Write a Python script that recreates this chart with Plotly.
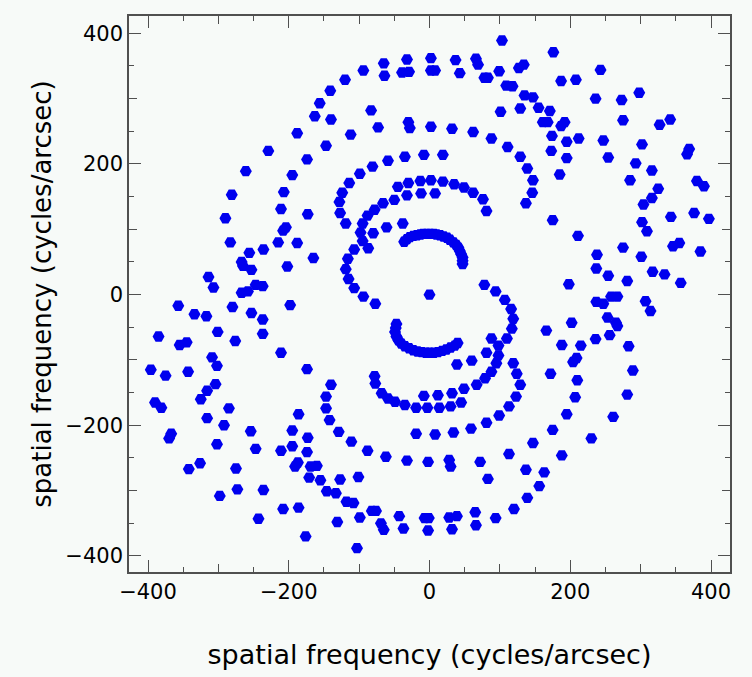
import plotly.graph_objects as go

# (u, v) spatial-frequency samples, in cycles/arcsec
u_freq = [
    -156, -163, -188, -147, -229, -174, -261, -195, -281, -207,
    103, -65, -32, 2, 37, 66, 69, -94, -64, -39,
    -29, 2, 8, 43, 78, 83, 99, 127, 134, -120,
    -141, 109, 118, 135, 147, -83, 101, 129, -140, -73,
    -30, -28, 2, 32, 62, 88, 111, 129, 139, -112,
    -35, -8, 19, -59, -81, -99, -114, -124, -128, -45,
    -30, -13, 2, 19, 35, 49, 62, 76, -50, -32,
    -12, 8, -66,
    176, 243, 187, 208, 236, 273, 298, 155, 171, 161,
    168, 187, 192, 275, 327, 342, 174, 195, 212, 247,
    302, 173, 195, 254, 369, 366, 293, 185, 316, 147,
    285, 380, 390, 325, 146, 316, 137, 304,
    -211, -173, -290, -204, -208, -283, -215, -188, -256, -236,
    -165, -267, -265, -253, -202, -314, -307, -267, -258, -247,
    -237, -357, -280, -198, -334, -317, -253, -237, -385, -301,
    -237, -355, -345, -276, -211, -309, -302, -396, -375, -343,
    -174, -304, -140,
    -316, -325, -390, -381, -285, -316, -186, -147, -147, -142,
    -292, -254, -195, -367, -370, -173, -302, -247, -211, -195,
    -174, -342, -326, -275, -187, -191, -169, -160, -171, -155,
    -146, -273, -236, -298, -208, -186, -243, -176,
    -127, -119, -78, -88, -95, -98, -95, -87, -80, -61,
    -38, -107, -116, -119, -115, -107, -94, -77,
    -36, -28, -18, -9, 1, 10, 20, 29, 38, 43, 47, 47,
    -32, -23, -13, -4, 6, 15, 25, 34, 41, 45, 47,
    0, 78, 94, 107, 116, 119, 117, 110, 81,
    -47, -49, -44, -35, -23, -11, 0, 12, 24, 36,
    -48, -47, -40, -29, -17, -5, 6, 18, 30, 40,
    88, 98, 81, 98, 95, 88, 79, 67, 60, 39,
    119, 124, 129, -78, -77, 49,
    175, 343, 376, 397, 302, 309, 211, 275, 346, 355,
    385, 238, 301, 237, 254, 317, 334, 281, 198, 357,
    237, 247, 258, 267, 307, 314, 202, 253, 265, 267,
    166, 236, 256, 188, 215, 283, 209, 204, 289, 172, 210,
    -129, -111, -88, -62, -32, -2, 28, 30, 72, 83,
    113, 137, -68, -59, -49, -35, -19, -3, 14, 30,
    45, -8, 12, 32, -19, 8, 34, 59, 81, 99,
    113, 123, -127, -101, -133, -118, -108, -131, -99, -82,
    -76, -69, -65, -43, -37, -7, -1, -2, 28, 39,
    32, 65, 66, 94, 120, 139, -103,
    207, 281, 195, 261, 175, 230, 147, 188, 163, 156,
]

v_freq = [
    293, 273, 247, 228, 220, 207, 189, 183, 153, 157,
    389, 354, 360, 362, 359, 361, 352, 343, 335, 340,
    341, 343, 343, 339, 332, 332, 342, 347, 352, 329,
    312, 320, 319, 305, 302, 282, 280, 285, 268, 256,
    264, 255, 257, 254, 249, 239, 226, 211, 193, 245,
    211, 214, 214, 205, 196, 185, 171, 156, 142, 165,
    171, 174, 175, 173, 169, 164, 156, 146, 145, 152,
    155, 155, 140,
    371, 344, 327, 329, 300, 298, 309, 286, 281, 264,
    264, 258, 264, 267, 260, 268, 243, 234, 239, 236,
    230, 220, 209, 210, 223, 215, 201, 184, 190, 175,
    175, 174, 166, 162, 156, 148, 140, 138,
    131, 123, 117, 103, 98, 80, 80, 79, 64, 69,
    56, 50, 44, 38, 43, 27, 11, 3, 5, 15,
    13, -17, -19, -16, -30, -33, -28, -38, -64, -57,
    -60, -77, -73, -71, -89, -96, -109, -115, -124, -118,
    -114, -137, -138,
    -147, -160, -165, -173, -174, -189, -183, -156, -174, -192,
    -200, -209, -208, -213, -220, -219, -229, -236, -239, -232,
    -241, -267, -258, -266, -257, -263, -263, -262, -280, -284,
    -301, -298, -299, -308, -328, -326, -343, -370,
    125, 109, 130, 121, 109, 95, 82, 71, 94, 103,
    109, 69, 55, 39, 24, 10, -3, -14,
    81, 88, 91, 93, 93, 92, 89, 84, 76, 67, 57, 47,
    85, 90, 92, 93, 93, 91, 87, 80, 72, 62, 52,
    0, 15, 5, -8, -22, -37, -52, -67, 128,
    -45, -57, -70, -79, -85, -88, -89, -88, -84, -78,
    -51, -64, -75, -82, -87, -89, -89, -86, -81, -74,
    -67, -78, -89, -93, -105, -118, -128, -138, -101, -107,
    -105, -121, -138, -125, -136, -144,
    114, 119, 125, 116, 111, 97, 90, 72, 74, 79,
    66, 61, 58, 40, 29, 35, 31, 21, 16, 18,
    -11, -14, -3, -3, -10, -25, -43, -35, -43, -48,
    -55, -68, -62, -77, -78, -79, -97, -103, -116, -121, -131,
    -210, -225, -239, -248, -254, -256, -253, -263, -256, -282,
    -244, -268, -151, -159, -164, -169, -173, -173, -173, -171,
    -165, -155, -154, -151, -213, -214, -211, -205, -196, -185,
    -171, -156, -283, -279, -304, -317, -319, -348, -341, -331,
    -331, -350, -360, -339, -358, -342, -342, -361, -341, -339,
    -359, -333, -353, -342, -328, -311, -388,
    -157, -153, -183, -187, -207, -220, -227, -246, -272, -293,
]

x_title = "spatial frequency (cycles/arcsec)"
y_title = "spatial frequency (cycles/arcsec)"
major_ticks = [-400, -200, 0, 200, 400]

x_range = [-427, 427]
y_range = [-424.5, 426.5]

BG = "#f7faf8"
AX = "#505050"
FONT = "DejaVu Sans"

fig = go.Figure()
fig.add_trace(go.Scatter(
    x=u_freq, y=v_freq, mode="markers",
    marker=dict(symbol="hexagon2", size=12, color="#0000ee", line=dict(width=0)),
    showlegend=False, hoverinfo="x+y",
))
# invisible anchor trace for the overlay axes carrying the 100-step ticks
fig.add_trace(go.Scatter(
    x=[0], y=[0], xaxis="x2", yaxis="y2", mode="markers",
    marker=dict(opacity=0), showlegend=False, hoverinfo="skip",
))

common_main = dict(
    showgrid=False, zeroline=False, showline=True, linecolor=AX, linewidth=1.5,
    mirror="ticks", ticks="inside", ticklen=12, tickwidth=1.3, tickcolor=AX,
    tickvals=major_ticks, ticktext=[("\u2212" + str(-t)) if t < 0 else str(t) for t in major_ticks],
    tickfont=dict(family=FONT, size=21, color="black"),
    minor=dict(dtick=50, ticks="inside", ticklen=5, tickwidth=1.2, tickcolor=AX, showgrid=False),
)
common_overlay = dict(
    showgrid=False, zeroline=False, showline=False, mirror="ticks",
    ticks="inside", ticklen=8, tickwidth=1.2, tickcolor=AX,
    dtick=100, tick0=0, showticklabels=False,
)

fig.update_layout(
    width=752, height=677,
    margin=dict(l=129, r=22, t=16, b=103),
    paper_bgcolor=BG, plot_bgcolor=BG,
    xaxis=dict(range=x_range, **common_main,
               title=dict(text=x_title, font=dict(family=FONT, size=27, color="black"), standoff=42)),
    yaxis=dict(range=y_range, **common_main,
               title=dict(text=y_title, font=dict(family=FONT, size=26, color="black"), standoff=6)),
    xaxis2=dict(range=x_range, overlaying="x", anchor="y2", side="bottom", **common_overlay),
    yaxis2=dict(range=y_range, overlaying="y", anchor="x2", side="left", **common_overlay),
)

fig.write_html("out.html")
